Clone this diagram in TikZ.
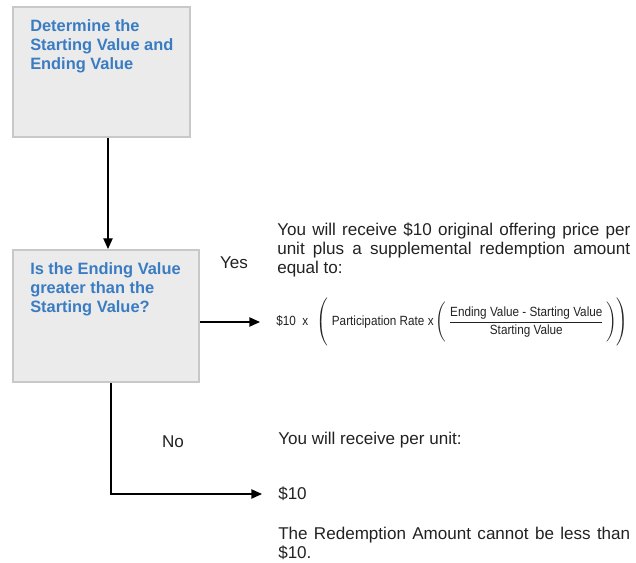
\documentclass[tikz,border=0pt]{standalone}
\usepackage{fontspec}
\usepackage{amsmath}
\setmainfont{Liberation Sans}
\newfontfamily\formulafont[FakeStretch=0.88]{Liberation Sans}
\usetikzlibrary{arrows.meta}
\definecolor{boxfill}{HTML}{EBEBEB}
\definecolor{boxline}{HTML}{C8C8C8}
\definecolor{boxtext}{HTML}{3A7CC2}
\definecolor{bodytext}{HTML}{222222}
\hbadness=10000
\begin{document}
\begin{tikzpicture}[x=0.75pt, y=-0.75pt,
	box/.style={shape=rectangle, draw=boxline, fill=boxfill, line width=1.5pt},
	boxlabel/.style={anchor=north west, inner sep=0pt, align=left, text=boxtext, font=\fontsize{12.3}{14.25}\selectfont\bfseries},
	body/.style={anchor=north west, inner sep=0pt, text=bodytext, font=\fontsize{12.8}{14.25}\selectfont},
	plain/.style={inner sep=0pt, text=bodytext, font=\fontsize{12.8}{14}\selectfont},
	arr/.style={line width=1pt, -{Triangle[length=8pt, width=7pt]}}]
	\useasboundingbox (0,0) rectangle (636,563);
	% left column: the two boxes
	\node (determine) at (101.5,72) [box, minimum width=177*0.75pt, minimum height=130*0.75pt] {};
	\node (determinetext) at (30,19) [boxlabel] {Determine the\\Starting Value and\\Ending Value};
	\node (compare) at (106,316) [box, minimum width=186*0.75pt, minimum height=132*0.75pt] {};
	\node (comparetext) at (30,262) [boxlabel] {Is the Ending Value\\greater than the\\Starting Value?};
	\draw [arr] (determine.south -| 108,0) -- (compare.north -| 108,0);
	% yes branch
	\node (yes) at (234,263) [plain] {Yes};
	\node (yestext) at (277,223) [body, text width=353*0.75pt, align=justify] {You will receive \$10 original offering price per\linebreak unit plus a supplemental redemption amount\linebreak equal to:};
	\node (formula) at (276,322) [anchor=west, inner sep=0pt, text=bodytext, font=\formulafont\fontsize{10}{11}\selectfont] {$\text{\$10\ \ x\ \ }\left(\vphantom{\rule[-15pt]{0pt}{30pt}}\text{ Participation Rate x}\left(\vphantom{\rule[-12pt]{0pt}{24pt}}\,\dfrac{\text{Ending Value - Starting Value}}{\text{Starting Value}}\,\right)\right)$};
	\coordinate (yesend) at (260,322);
	\draw [arr] (compare.east |- yesend) -- (yesend);
	% no branch
	\node (no) at (173,442) [plain] {No};
	\node (notext) at (278,440) [plain, anchor=west] {You will receive per unit:};
	\node (minimum) at (278,494) [plain, anchor=west] {\$10};
	\node (redemption) at (278,527) [body, text width=352*0.75pt, align=justify] {The Redemption Amount cannot be less than\linebreak \$10.};
	\coordinate (nocorner) at (111,494);
	\coordinate (noend) at (262,494);
	\draw [arr] (compare.south -| nocorner) -- (nocorner) -- (noend);
\end{tikzpicture}
\end{document}
